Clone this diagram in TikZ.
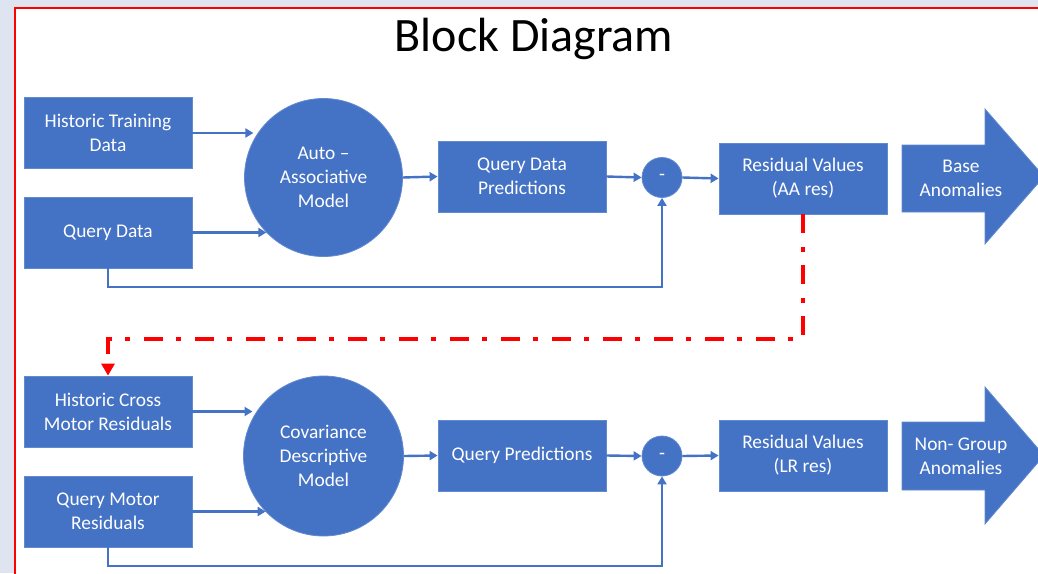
\documentclass[tikz,border=0pt]{standalone}
\usepackage{fontspec}
\setmainfont{Carlito}
\usetikzlibrary{arrows.meta,calc}
\definecolor{officeblue}{RGB}{68,114,196}
\definecolor{edgeblue}{RGB}{98,138,206}
\definecolor{slidebg}{RGB}{222,229,241}
\begin{document}
\begin{tikzpicture}[x=1pt,y=-1pt,
  lbl/.style={text=white, align=center, font=\fontsize{19.4}{24}\selectfont},
  block/.style={lbl, rectangle, fill=officeblue, draw=edgeblue, line width=0.8pt,
    minimum width=168pt, minimum height=71pt, inner sep=0pt},
  model/.style={lbl, circle, fill=officeblue, draw=edgeblue, line width=0.8pt,
    minimum size=158pt, inner sep=0pt},
  diffnode/.style={lbl, circle, fill=officeblue, draw=edgeblue, line width=0.8pt,
    minimum size=40pt, inner sep=0pt},
  link/.style={draw=officeblue, line width=2.4pt, -{Triangle[width=9pt,length=8pt]}},
  crosslink/.style={draw=red, line width=4pt, line cap=butt,
    dash pattern=on 19pt off 14pt on 5pt off 13pt,
    -{Triangle[width=13pt,length=12pt,fill=red]}},
  bigarrow/.style={fill=officeblue, draw=edgeblue, line width=0.8pt}
]
\useasboundingbox (0,0) rectangle (1038,573);
\clip (0,0) rectangle (1038,573);

% slide background and frame
\fill[slidebg] (0,0) rectangle (1038,573);
\fill[white] (15,8) rectangle (1038,573);
\draw[red, line width=2pt] (1060,8) -- (15,8) -- (15,600);

% title
\node[anchor=base, font=\fontsize{48}{58}\selectfont] (title) at (534,51) {Block Diagram};

% ---- upper chain: auto-associative model ----
\node[block] (ht)  at (108,133)   {Historic Training\\Data};
\node[block] (qd)  at (108,232.5) {Query Data};
\node[model] (aam) at (323.5,177.5) {Auto --\\Associative\\Model};
\node[block] (qdp) at (522,176.5) {Query Data\\Predictions};
\node[diffnode] (m1) at (662,177.5) {-};
\node[block] (rv1) at (803,178.5) {Residual Values\\(AA res)};
\draw[bigarrow] (902,145) -- (985,145) -- (985,109) -- (1044,176.5)
  -- (985,244) -- (985,212) -- (902,212) -- cycle;
\node[lbl] (ba) at (961,178) {Base\\Anomalies};

\coordinate (fb1) at (0,287);
\draw[link] (ht.east) -- (ht.east -| aam.152);
\draw[link] (qd.east) -- (qd.east -| aam.224);
\draw[link] (aam.east) -- (qdp.west);
\draw[link] (qdp.east) -- (m1.west);
\draw[link] (m1.east) -- (rv1.west);
\draw[link] (qd.south) -- (qd.south |- fb1) -| (m1.south);

% ---- lower chain: covariance descriptive model ----
\node[block] (hc)  at (108,411.5) {Historic Cross\\Motor Residuals};
\node[block] (qm)  at (108,511.5) {Query Motor\\Residuals};
\node[model, minimum size=160pt] (cdm) at (323.5,456) {Covariance\\Descriptive\\Model};
\node[block] (qp)  at (522,455.5) {Query Predictions};
\node[diffnode] (m2) at (662,456) {-};
\node[block] (rv2) at (803,455.5) {Residual Values\\(LR res)};
\draw[bigarrow] (902,422) -- (985,422) -- (985,387) -- (1044,455.5)
  -- (985,524) -- (985,490) -- (902,490) -- cycle;
\node[lbl] (nga) at (961,456) {Non- Group\\Anomalies};

\coordinate (fb2) at (0,566);
\draw[link] (hc.east) -- (hc.east -| cdm.152);
\draw[link] (qm.east) -- (qm.east -| cdm.224);
\draw[link] (cdm.east) -- (qp.west);
\draw[link] (qp.east) -- (m2.west);
\draw[link] (m2.east) -- (rv2.west);
\draw[link] (qm.south) -- (qm.south |- fb2) -| (m2.south);

% residuals of the upper chain feed the lower chain
\coordinate (xr) at (0,339);
\draw[crosslink] (rv1.south) -- (rv1.south |- xr) -| (hc.north);
\end{tikzpicture}
\end{document}
